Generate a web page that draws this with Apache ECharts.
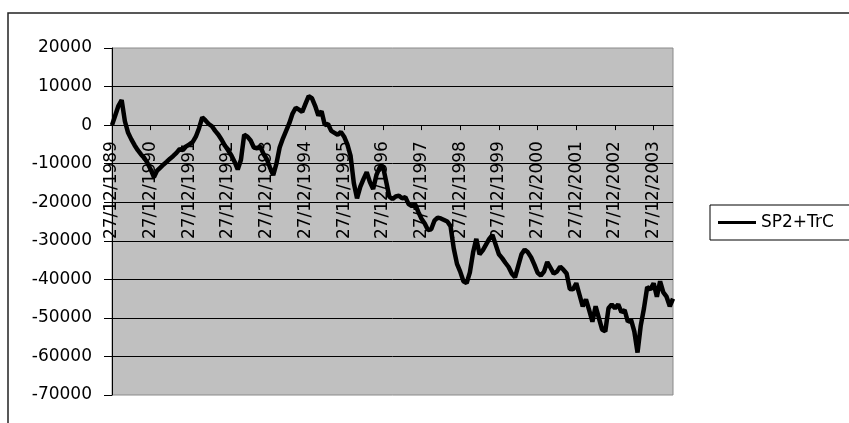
<!DOCTYPE html>
<html>
<head>
<meta charset="utf-8">
<script src="https://cdn.jsdelivr.net/npm/echarts@6/dist/echarts.min.js"></script>
<style>
html,body{margin:0;padding:0;background:#fff;}
#chart{width:849px;height:423px;}
</style>
</head>
<body>
<div id="chart"></div>
<script>
// Tick labels shown on the category axis (one per year)
var tickLabels = ["27/12/1989","27/12/1990","27/12/1991","27/12/1992","27/12/1993","27/12/1994","27/12/1995","27/12/1996","27/12/1997","27/12/1998","27/12/1999","27/12/2000","27/12/2001","27/12/2002","27/12/2003"];
var seriesName = "SP2+TrC";
// Monthly readings of the cumulative curve, starting 27/12/1989
var values = [
  0, 2500, 5000, 6500, 1000, -2000, -3700, -5200, -6500, -7600, -8500, -9800,
  -11500, -13500, -11800, -11000, -10200, -9500, -8700, -8000, -7200, -6200, -6500, -5500,
  -5000, -4400, -3000, -800, 2000, 1200, 300, -300, -1500, -2500, -3800, -5300,
  -6500, -7800, -9500, -11500, -9000, -2500, -3000, -4000, -5800, -6000, -5500, -7500,
  -8800, -11000, -13000, -10000, -5800, -3500, -1500, 500, 3000, 4500, 4000, 3400,
  5500, 7500, 7000, 5000, 2500, 3600, 0, 300, -1500, -2000, -2500, -1800,
  -3000, -5000, -8000, -15000, -19000, -16000, -14000, -12200, -14800, -16600, -13000, -11000,
  -10500, -14500, -18500, -19200, -18500, -18300, -19000, -18700, -20500, -21000, -20500, -22500,
  -24300, -25500, -27200, -27000, -24800, -24000, -24200, -24600, -25000, -26200, -32000, -36000,
  -38000, -40500, -41000, -38200, -33000, -29500, -33500, -32500, -31000, -29500, -28500, -31000,
  -33500, -34500, -35700, -36800, -38500, -39500, -36500, -33500, -32300, -33000, -34300, -36200,
  -38300, -39000, -38000, -35500, -37000, -38500, -38000, -36700, -37500, -38500, -42500, -42600,
  -41000, -44000, -47000, -45200, -48000, -51000, -47000, -50000, -53000, -53500, -47500, -46500,
  -47500, -46500, -48500, -48000, -51000, -50500, -53500, -59000, -52000, -47500, -42000, -42600,
  -41000, -44500, -40500, -43400, -44500, -47000, -45000
];
var yMin = -70000, yMax = 20000, yStep = 10000;
var crossValue = 0; // category axis crosses the value axis here

// Category labels: one per month from 27/12/1989
var categories = [];
for (var i = 0; i < values.length; i++) {
  var mIdx = 11 + i; // December 1989 = month 11 (0-based)
  var yr = 1989 + Math.floor(mIdx / 12);
  var mo = (mIdx % 12) + 1;
  categories.push("27/" + mo + "/" + yr);
}

var chart = echarts.init(document.getElementById('chart'), null, {renderer: 'canvas'});
var FONT = '"DejaVu Sans", Arial, sans-serif';
var yearTick = function (idx) { return idx % 12 === 0; };

chart.setOption({
  animation: false,
  backgroundColor: '#ffffff',
  textStyle: {fontFamily: FONT},
  graphic: [{
    type: 'rect',
    shape: {x: 8, y: 13, width: 900, height: 450},
    style: {fill: 'none', stroke: '#222', lineWidth: 1.5},
    z: -1
  }],
  grid: {
    left: 112, top: 48, width: 561, height: 347,
    outerBoundsMode: 'none',
    containLabel: false,
    show: true, backgroundColor: '#c0c0c0', borderColor: '#8a8a8a', borderWidth: 1
  },
  legend: {
    left: 710, top: 205,
    orient: 'vertical',
    data: [{name: seriesName, icon: 'rect'}],
    itemWidth: 38, itemHeight: 3, itemGap: 0,
    padding: [8, 60, 8, 8],
    borderColor: '#000', borderWidth: 1, backgroundColor: '#fff',
    itemStyle: {color: '#000'},
    textStyle: {fontFamily: FONT, fontSize: 17, color: '#000', lineHeight: 19}
  },
  xAxis: {
    type: 'category',
    data: categories,
    boundaryGap: false,
    position: 'bottom',
    offset: 0,
    axisLine: {onZero: false, lineStyle: {color: '#000', width: 1}},
    axisTick: {show: true, interval: yearTick, length: 5, inside: false, lineStyle: {color: '#000'}},
    axisLabel: {
      interval: yearTick,
      rotate: 90,
      margin: 16,
      fontFamily: FONT, fontSize: 17, color: '#000',
      formatter: function (v, idx) { return tickLabels[idx / 12] || v; }
    },
    splitLine: {show: false}
  },
  yAxis: {
    type: 'value',
    min: yMin, max: yMax, interval: yStep,
    axisLine: {show: true, lineStyle: {color: '#000', width: 1}},
    axisTick: {show: true, length: 8, lineStyle: {color: '#000'}},
    axisLabel: {margin: 20, fontFamily: FONT, fontSize: 17, color: '#000',
      formatter: function (v) { return String(v); }},
    splitLine: {show: true, showMinLine: false, showMaxLine: false, lineStyle: {color: '#000', width: 1}}
  },
  series: [{
    name: seriesName,
    type: 'line',
    data: values,
    symbol: 'none',
    lineStyle: {color: '#000', width: 4.5},
    itemStyle: {color: '#000'},
    z: 5
  }]
});

// Move the category axis up so it crosses the value axis at zero (as in the original)
var yZero = chart.convertToPixel({yAxisIndex: 0}, crossValue);
var yBottom = chart.convertToPixel({yAxisIndex: 0}, yMin);
chart.setOption({xAxis: {offset: yZero - yBottom}});
</script>
</body>
</html>
